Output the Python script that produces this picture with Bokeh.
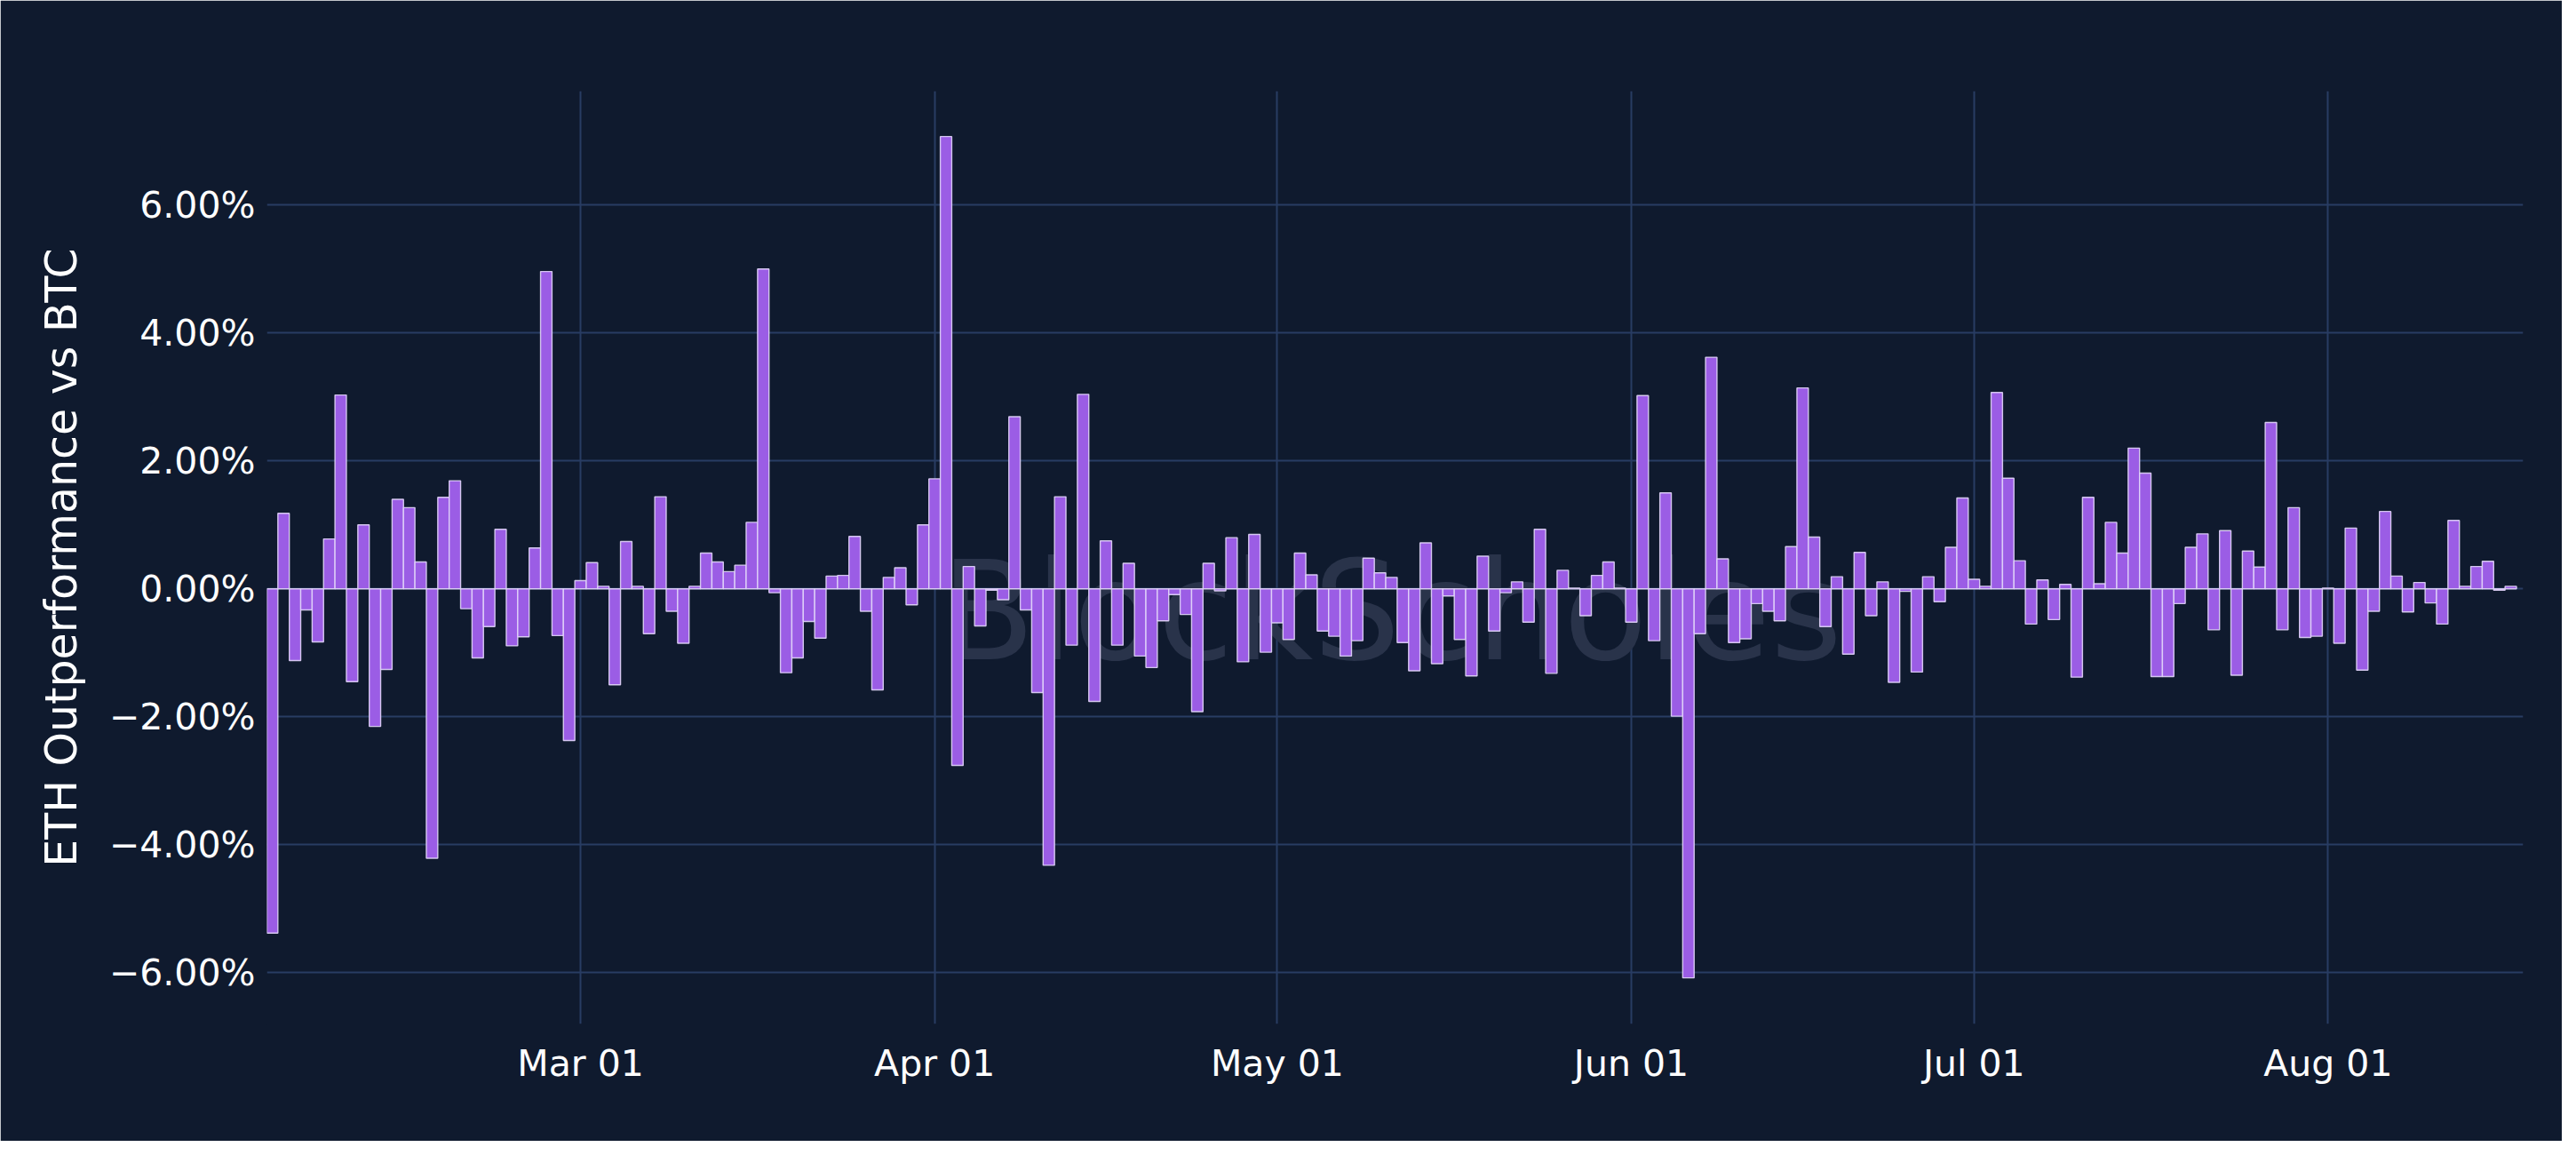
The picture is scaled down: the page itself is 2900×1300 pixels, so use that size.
import pandas as pd
from bokeh.plotting import figure
from bokeh.models import ColumnDataSource, FixedTicker, DatetimeTickFormatter, CustomJSTickFormatter, Range1d
from bokeh.core.properties import value
from bokeh.embed import file_html
from bokeh.resources import INLINE

# daily ETH outperformance vs BTC, in percent, from Feb 02
start_date = "2023-02-02"
outperf = [
    -5.38, 1.18, -1.12, -0.33, -0.83, 0.78, 3.03, -1.45, 1.00, -2.15,
    -1.26, 1.40, 1.27, 0.42, -4.21, 1.43, 1.69, -0.31, -1.08, -0.59,
    0.93, -0.89, -0.75, 0.64, 4.96, -0.73, -2.37, 0.13, 0.41, 0.04,
    -1.50, 0.74, 0.04, -0.70,
    1.44, -0.35, -0.85, 0.04, 0.56, 0.42, 0.27, 0.37, 1.04, 5.00,
    -0.06, -1.31, -1.08, -0.51, -0.77, 0.20, 0.21, 0.82, -0.35, -1.58,
    0.18, 0.33, -0.25, 1.00, 1.72, 7.07, -2.76, 0.35, -0.58, -0.02,
    -0.17, 2.69, -0.33,
    -1.62, -4.32, 1.44, -0.88, 3.04, -1.76, 0.75, -0.88, 0.40, -1.05,
    -1.23, -0.50, -0.09, -0.40, -1.92, 0.40, -0.03, 0.80, -1.14, 0.85,
    -0.99, -0.53, -0.79, 0.56, 0.22, -0.66, -0.74, -1.05, -0.81, 0.48,
    0.25, 0.18,
    -0.84, -1.28, 0.72, -1.17, -0.11, -0.79, -1.36, 0.51, -0.66, -0.06,
    0.11, -0.52, 0.93, -1.32, 0.29, 0.01, -0.42, 0.21, 0.42, 0.01,
    -0.52, 3.02, -0.81, 1.50, -1.99, -6.08, -0.70, 3.62, 0.47, -0.84,
    -0.78, -0.23, -0.35,
    -0.50, 0.66, 3.14, 0.81, -0.59, 0.19, -1.02, 0.57, -0.42, 0.11,
    -1.46, -0.04, -1.30, 0.19, -0.20, 0.65, 1.42, 0.15, 0.04, 3.07,
    1.73, 0.44, -0.55, 0.14, -0.48, 0.07, -1.38, 1.43, 0.08, 1.04,
    0.56, 2.20, 1.81,
    -1.37, -1.37, -0.23, 0.65, 0.86, -0.64, 0.91, -1.35, 0.59, 0.34,
    2.60, -0.64, 1.27, -0.76, -0.74, 0.01, -0.85, 0.95, -1.27, -0.35,
    1.21, 0.20, -0.36, 0.10, -0.22, -0.55, 1.07, 0.04, 0.35, 0.43,
    -0.02, 0.04,
]
tick_dates = ["2023-03-01", "2023-04-01", "2023-05-01", "2023-06-01", "2023-07-01", "2023-08-01"]
y_ticks = [-6, -4, -2, 0, 2, 4, 6]

BG = "#0f1a2e"
GRID = "#283c63"
BAR = "#9b5de5"
DAY = 86400000

dates = pd.date_range(start_date, periods=len(outperf), freq="D")
src = ColumnDataSource(data=dict(date=dates, val=outperf))

x0 = dates[0] - pd.Timedelta(hours=11)
x1 = dates[-1] + pd.Timedelta(hours=26)

p = figure(width=2884, height=1284, x_axis_type="datetime",
           x_range=Range1d(x0, x1), y_range=Range1d(-6.8, 7.78),
           output_backend="svg", toolbar_location=None,
           min_border_left=300, min_border_right=44, min_border_top=102, min_border_bottom=132)

p.border_fill_color = BG
p.background_fill_color = BG
# an outline in the background colour hides the seam round the frame
p.outline_line_color = BG
p.outline_line_width = 3

# faint watermark behind the bars
p.text(x=[dates[98]], y=[-0.36], text=["BlockScholes"], text_font=value("DejaVu Sans"),
       text_font_size="155px", text_color="#29334a", text_align="center", text_baseline="alphabetic")

p.vbar(x="date", top="val", bottom=0, width=DAY, source=src,
       fill_color=BAR, line_color="#e2d6fa", line_alpha=0.9, line_width=1.4)

p.xaxis.ticker = FixedTicker(ticks=[pd.Timestamp(d).value // 10**6 for d in tick_dates])
p.xaxis.formatter = DatetimeTickFormatter(days="%b %d", months="%b %d", years="%b %d", hours="%b %d")
p.yaxis.ticker = FixedTicker(ticks=y_ticks)
p.yaxis.formatter = CustomJSTickFormatter(code="""
    return (tick < 0 ? "\u2212" : "") + Math.abs(tick).toFixed(2) + "%";
""")

for ax in (p.xaxis, p.yaxis):
    ax.axis_line_color = None
    ax.major_tick_line_color = None
    ax.minor_tick_line_color = None
    ax.major_label_text_color = "#ffffff"
    ax.major_label_text_font = "DejaVu Sans"
    ax.major_label_text_font_size = "41px"

p.xaxis.major_label_standoff = 14
p.yaxis.major_label_standoff = 7

p.yaxis.axis_label = "ETH Outperformance vs BTC"
p.yaxis.axis_label_text_color = "#ffffff"
p.yaxis.axis_label_text_font = "DejaVu Sans"
p.yaxis.axis_label_text_font_size = "49px"
p.yaxis.axis_label_text_font_style = "normal"
p.yaxis.axis_label_standoff = 22

p.grid.grid_line_color = GRID
p.grid.grid_line_width = 2
p.xgrid.ticker = p.xaxis.ticker
p.ygrid.ticker = p.yaxis.ticker

open("out.html", "w").write(file_html(p, INLINE))
